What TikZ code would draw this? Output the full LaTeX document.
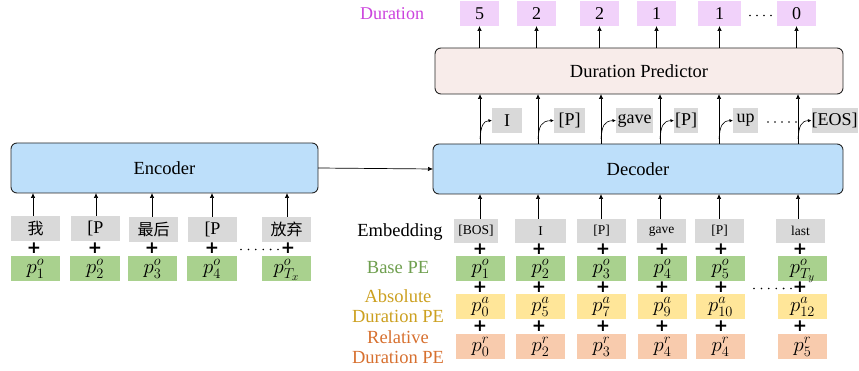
\documentclass[tikz,border=0pt]{standalone}
\usepackage{fontspec}
\setmainfont{Liberation Serif}
\newfontfamily\cjk{Noto Sans CJK SC}
\newfontfamily\plusfont{DejaVu Sans}
\usetikzlibrary{arrows.meta,calc}
\definecolor{tokgray}{HTML}{D9D9D9}
\definecolor{pegreen}{HTML}{A9D18E}
\definecolor{peyellow}{HTML}{FFE699}
\definecolor{pepeach}{HTML}{F8CBAD}
\definecolor{blkblue}{HTML}{BDDFFA}
\definecolor{predpink}{HTML}{F8ECEA}
\definecolor{durviolet}{HTML}{F1D2FA}
\definecolor{durtext}{HTML}{CC44DD}
\definecolor{basetext}{HTML}{6F9F4F}
\definecolor{abstext}{HTML}{CCA020}
\definecolor{reltext}{HTML}{D7702F}
\newcommand\Rect[7]{\node[#2,minimum width={(#4-#3)*1pt},minimum height={(#6-#5)*1pt}] (#1) at ({(#3+#4)/2},{(#5+#6)/2}) {#7};}
\tikzset{
  every node/.style={inner sep=0pt, outer sep=0pt},
  blk/.style={draw=black!85, line width=0.9pt, rounded corners=6pt, fill=blkblue, font=\fontsize{18.5}{20}\selectfont},
  predbox/.style={blk, fill=predpink},
  durbox/.style={fill=durviolet, font=\fontsize{18}{20}\selectfont},
  toptok/.style={fill=tokgray, font=\fontsize{18}{20}\selectfont},
  lefttok/.style={fill=tokgray, font=\fontsize{18}{20}\selectfont},
  embtok/.style={fill=tokgray, font=\fontsize{13.5}{15}\selectfont},
  pe/.style={font=\fontsize{22}{24}\selectfont, text height=10pt, text depth=0pt},
  pebase/.style={pe, fill=pegreen},
  peabs/.style={pe, fill=peyellow},
  perel/.style={pe, fill=pepeach},
  rowlabel/.style={align=center, font=\fontsize{18.5}{20}\selectfont},
  arr/.style={-{Latex[length=5pt,width=4.5pt]}, line width=0.7pt},
  curv/.style={-{Latex[length=3.5pt,width=3.2pt]}, line width=0.6pt},
  plus/.style={font=\plusfont\bfseries\fontsize{17}{17}\selectfont},
  dot/.style={fill=black},
}
\begin{document}
\begin{tikzpicture}[x=1pt,y=-1pt]
\useasboundingbox (0,0) rectangle (859,371);

% ---------- blocks
\Rect{enc}{blk}{11}{318}{143}{193}{Encoder}
\Rect{dec}{blk}{433}{843}{144}{194}{Decoder}
\Rect{pred}{predbox}{435}{843}{48}{94}{Duration Predictor}
\draw[arr] (enc.east) -- (dec.west);

% ---------- columns of decoder
\foreach \i/\x in {1/480,2/538,3/601,4/660,5/719,6/798}{
  \coordinate (col\i) at (\x,0);
}

% ---------- duration outputs
\node[font=\fontsize{18}{20}\selectfont, text=durtext] (durlab) at (392,14) {Duration};
\Rect{d1}{durbox}{460}{499}{1}{26}{5}
\Rect{d2}{durbox}{517}{556}{1}{26}{2}
\Rect{d3}{durbox}{580}{619}{1}{26}{2}
\Rect{d4}{durbox}{637}{676}{1}{26}{1}
\Rect{d5}{durbox}{698}{741}{1}{26}{1}
\Rect{d6}{durbox}{777}{816}{1}{26}{0}
\foreach \i in {1,...,6}{
  \draw[arr] (pred.north -| d\i.south) -- (d\i.south);
}
\foreach \k in {0,...,3}{ \fill[dot] ({750+7*\k},15.5) circle (0.9); }

% ---------- decoder -> predictor, with output tokens
\Rect{o1}{toptok}{492}{522}{108}{133}{I}
\Rect{o2}{toptok}{554}{585}{108}{133}{[P]}
\Rect{o3}{toptok}{616}{653}{108}{133}{gave}
\Rect{o4}{toptok}{674}{698}{108}{133}{[P]}
\Rect{o5}{toptok}{733}{758}{108}{133}{up}
\Rect{o6}{toptok}{812}{857}{108}{133}{[EOS]}
\foreach \i in {1,...,6}{
  \draw[arr] (dec.north -| col\i) -- (pred.south -| col\i);
  \coordinate (s\i) at ($(col\i)+(0,139)$);
}
\foreach \i in {1,...,6}{
  \draw[curv] (s\i) .. controls ($(s\i)+(1,-13)$) and ($(s\i)+(3,-18)$) .. (o\i.west);
}
\foreach \k in {0,...,4}{ \fill[dot] ({768+7*\k},122) circle (0.9); }

% ---------- encoder inputs
\Rect{x1}{lefttok}{11}{60}{216}{241}{\cjk\fontsize{16}{18}\selectfont 我}
\Rect{x2}{lefttok}{71}{120}{216}{241}{[P}
\Rect{x3}{lefttok}{129}{178}{217}{242}{\cjk\fontsize{16}{18}\selectfont 最后}
\Rect{x4}{lefttok}{188}{237}{217}{242}{[P}
\Rect{x5}{lefttok}{262}{311}{217}{242}{\cjk\fontsize{16}{18}\selectfont 放弃}
\Rect{xb1}{pebase}{11}{60}{256}{281}{$p^{o}_{1}$}
\Rect{xb2}{pebase}{70}{120}{256}{281}{$p^{o}_{2}$}
\Rect{xb3}{pebase}{128}{177}{256}{281}{$p^{o}_{3}$}
\Rect{xb4}{pebase}{187}{237}{256}{281}{$p^{o}_{4}$}
\Rect{xb5}{pebase}{262}{311}{256}{281}{$p^{o}_{T_x}$}
\foreach \i/\x in {1/33,2/96,3/152,4/212,5/287}{
  \coordinate (ec\i) at (\x,0);
  \draw[arr] (x\i.north -| ec\i) -- (enc.south -| ec\i);
}
\foreach \i/\x in {1/34,2/95,3/152,4/212,5/288}{
  \node[plus] (xp\i) at (\x,248.5) {+};
}
\foreach \k in {0,...,5}{ \fill[dot] ({241+7.4*\k},249.5) circle (0.9); }

% ---------- decoder inputs
\node[rowlabel] (lemb) at (400,232) {Embedding};
\node[rowlabel, text=basetext] (lbase) at (398,268) {Base PE};
\node[rowlabel, text=abstext] (labs) at (398,306) {Absolute\\Duration PE};
\node[rowlabel, text=reltext] (lrel) at (398,347) {Relative\\Duration PE};

\Rect{e1}{embtok}{454}{498}{219}{243}{[BOS]}
\Rect{e2}{embtok}{515}{566}{219}{243}{I}
\Rect{e3}{embtok}{577}{626}{219}{243}{[P]}
\Rect{e4}{embtok}{637}{686}{219}{243}{gave}
\Rect{e5}{embtok}{695}{744}{219}{243}{[P]}
\Rect{e6}{embtok}{776}{825}{219}{243}{last}

\Rect{b1}{pebase}{456}{505}{256}{281}{$p^{o}_{1}$}
\Rect{b2}{pebase}{516}{565}{256}{281}{$p^{o}_{2}$}
\Rect{b3}{pebase}{577}{626}{256}{281}{$p^{o}_{3}$}
\Rect{b4}{pebase}{638}{687}{256}{281}{$p^{o}_{4}$}
\Rect{b5}{pebase}{696}{745}{256}{281}{$p^{o}_{5}$}
\Rect{b6}{pebase}{778}{827}{256}{281}{$p^{o}_{T_y}$}

\Rect{a1}{peabs}{456}{505}{294}{319}{$p^{a}_{0}$}
\Rect{a2}{peabs}{516}{565}{294}{319}{$p^{a}_{5}$}
\Rect{a3}{peabs}{577}{626}{294}{319}{$p^{a}_{7}$}
\Rect{a4}{peabs}{638}{687}{294}{319}{$p^{a}_{9}$}
\Rect{a5}{peabs}{696}{745}{294}{319}{$p^{a}_{10}$}
\Rect{a6}{peabs}{778}{827}{294}{319}{$p^{a}_{12}$}

\Rect{r1}{perel}{456}{505}{334}{359}{$p^{r}_{0}$}
\Rect{r2}{perel}{516}{565}{334}{359}{$p^{r}_{2}$}
\Rect{r3}{perel}{577}{626}{334}{359}{$p^{r}_{3}$}
\Rect{r4}{perel}{638}{687}{334}{359}{$p^{r}_{4}$}
\Rect{r5}{perel}{696}{745}{334}{359}{$p^{r}_{4}$}
\Rect{r6}{perel}{778}{827}{334}{359}{$p^{r}_{5}$}

\foreach \i in {1,...,6}{
  \draw[arr] (e\i.north -| col\i) -- (dec.south -| col\i);
}
\foreach \i/\x in {1/480,2/539,3/603,4/662,5/721,6/800}{
  \node[plus] (pa\i) at (\x,249.5) {+};
  \node[plus] (pb\i) at (\x,287.5) {+};
  \node[plus] (pc\i) at (\x,326.5) {+};
}
\foreach \k in {0,...,5}{ \fill[dot] ({754+7.4*\k},288.5) circle (0.9); }
\end{tikzpicture}
\end{document}
